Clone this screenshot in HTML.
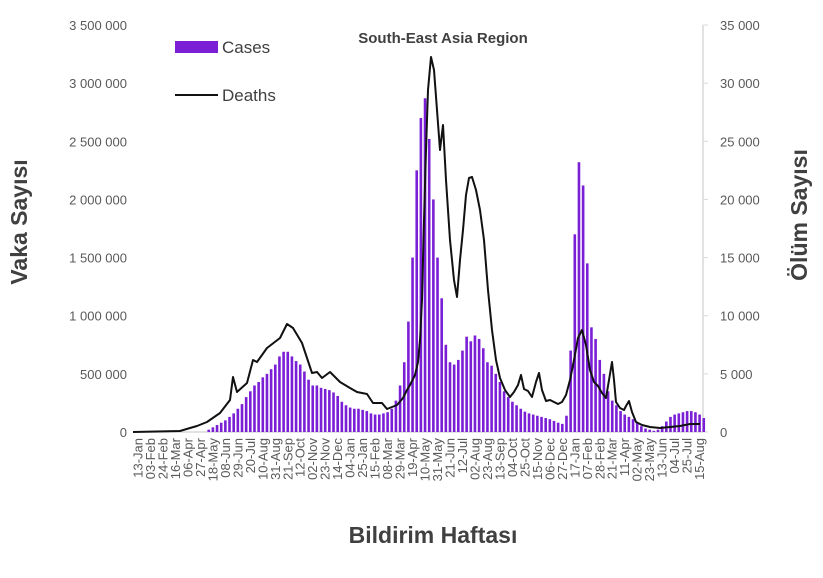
<!DOCTYPE html>
<html><head><meta charset="utf-8"><style>
body{margin:0;background:#fff;}
svg text{font-family:"Liberation Sans",sans-serif;}
</style></head><body>
<svg id="s" width="823" height="573" xmlns="http://www.w3.org/2000/svg"></svg>
<script>
const s=document.getElementById('s');let h='';
const y0=432,sc=407/3500000;
h+=`<line x1="133" y1="432" x2="703" y2="432" stroke="#d9d9d9" stroke-width="1.5"/>`;
h+=`<line x1="703" y1="25" x2="703" y2="432" stroke="#d9d9d9" stroke-width="1.5"/>`;
const ll=['0','500 000','1 000 000','1 500 000','2 000 000','2 500 000','3 000 000','3 500 000'];
const rl=['0','5 000','10 000','15 000','20 000','25 000','30 000','35 000'];
for(let i=0;i<8;i++){const y=432-i*407/7;
h+=`<text x="127" y="${y+5}" text-anchor="end" font-size="13" fill="#595959">${ll[i]}</text>`;
h+=`<text x="720" y="${y+5}" font-size="13" fill="#595959">${rl[i]}</text>`;
h+=`<line x1="703" y1="${y}" x2="708" y2="${y}" stroke="#d9d9d9"/>`;}
let c=[0,0,0,0,0,0,0,0,0,0,0,0,0,0,0,0,0,20,40,60,80,100,130,160,200,240,300,350,400,430,470,500,540,580,650,690,690,650,610,580,520,450,400,400,380,370,360,340,310,260,230,210,200,200,190,180,160,150,150,160,170,200,270,400,600,950,1500,2250,2700,2870,2520,2000,1500,1150,750,600,580,620,700,820,780,830,800,720,600,570,500,430,350,300,260,230,200,175,160,150,140,130,120,110,95,80,70,140,700,1700,2320,2120,1450,900,800,620,500,350,270,230,180,150,130,110,80,50,30,20,10,20,50,90,130,150,160,170,180,180,170,150,120];
c.forEach((v,i)=>{const x=138+4.16*i;const hh=v*1000*sc;if(hh>0)h+=`<rect x="${x-1.3}" y="${y0-hh}" width="2.6" height="${hh}" fill="#7a1fd6"/>`;});
const d=[[133,432],[180,431],[190,428],[197,426],[207,422],[220,413],[230,400],[233,377],[237,392],[247,383],[253,360],[257,362],[267,348],[280,338],[287,324],[293,328],[302,343],[312,373],[317,372],[322,378],[330,372],[340,382],[350,388],[357,392],[367,394],[373,403],[382,403],[387,409],[397,405],[403,398],[407,390],[410,385],[415,375],[418,362],[420,340],[422,300],[424,220],[426,150],[428,90],[431,57],[434,70],[437,110],[440,150],[443,125],[446,180],[450,240],[454,280],[457,297],[460,260],[463,230],[466,195],[469,178],[472,177],[476,190],[480,210],[484,240],[488,290],[492,330],[496,360],[500,378],[505,390],[510,397],[514,392],[518,385],[521,375],[524,389],[528,391],[532,397],[536,382],[539,373],[542,390],[546,401],[550,400],[554,402],[558,404],[562,402],[566,395],[570,380],[574,360],[578,338],[582,330],[586,345],[590,370],[594,382],[598,386],[602,393],[606,398],[609,380],[612,362],[614,380],[616,402],[620,408],[624,410],[626,406],[629,401],[632,412],[636,422],[642,425],[650,427],[660,428],[670,427],[680,426],[690,424],[700,424]];
h+=`<polyline points="${d.map(p=>p.join(',')).join(' ')}" fill="none" stroke="#111" stroke-width="2" stroke-linejoin="round"/>`;
const m=['Jan','Feb','Mar','Apr','May','Jun','Jul','Aug','Sep','Oct','Nov','Dec'];
let dt=new Date(Date.UTC(2020,0,13));
for(let k=0;k<46;k++){const x=138+12.48*k;const lab=String(dt.getUTCDate()).padStart(2,'0')+'-'+m[dt.getUTCMonth()];
h+=`<text transform="translate(${x+4.5},438) rotate(-90)" text-anchor="end" font-size="13" fill="#595959">${lab}</text>`;
dt=new Date(dt.getTime()+21*864e5);}
h+=`<text x="443" y="43" text-anchor="middle" font-size="15" font-weight="bold" fill="#404040">South-East Asia Region</text>`;
h+=`<rect x="175" y="41" width="43" height="12" fill="#7a1fd6"/><text x="222" y="53" font-size="17" fill="#404040">Cases</text>`;
h+=`<line x1="175" y1="95" x2="218" y2="95" stroke="#111" stroke-width="2"/><text x="222" y="101" font-size="17" fill="#404040">Deaths</text>`;
h+=`<text transform="translate(27,222) rotate(-90)" text-anchor="middle" font-size="23" font-weight="bold" fill="#404040">Vaka Sayısı</text>`;
h+=`<text transform="translate(807,215) rotate(-90)" text-anchor="middle" font-size="23" font-weight="bold" fill="#404040">Ölüm Sayısı</text>`;
h+=`<text x="433" y="543" text-anchor="middle" font-size="23" font-weight="bold" fill="#404040">Bildirim Haftası</text>`;
s.innerHTML=h;
</script>
</body></html>
